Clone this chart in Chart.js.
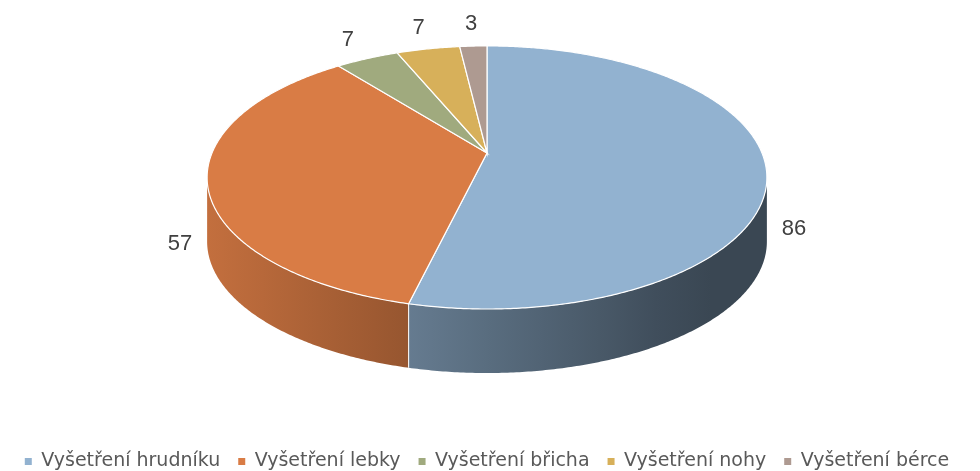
<!DOCTYPE html>
<html>
<head>
<meta charset="utf-8">
<script src="https://cdn.jsdelivr.net/npm/chart.js@4.4.0/dist/chart.umd.min.js"></script>
<style>
  html, body { margin: 0; padding: 0; background: #fff; }
</style>
</head>
<body>
<canvas id="chart" width="980" height="471"></canvas>
<script>
const categories = ['Vyšetření hrudníku', 'Vyšetření lebky', 'Vyšetření břicha', 'Vyšetření nohy', 'Vyšetření bérce']
const counts = [86, 57, 7, 7, 3]
const colors = ['#92b2d0', '#d97c45', '#a0aa7e', '#d7b05a', '#ae9a91']

// fake 3d: tilted disc with a bit of perspective
const CY = 153, RX = 275, RY = 127, PERSP = -0.186, DEPTH = 64

function proj(cx, ang, r, h) {
  const u = Math.cos(ang) * r, v = Math.sin(ang) * r
  const k = 1 + PERSP * v
  return [cx + RX * u / k, CY + RY * v / k + h]
}

function shade(hex, f) {
  const n = parseInt(hex.slice(1), 16)
  const r = Math.round(((n >> 16) & 255) * f)
  const g = Math.round(((n >> 8) & 255) * f)
  const b = Math.round((n & 255) * f)
  return `rgb(${r},${g},${b})`
}

// light comes from the left, wall gets darker to the right
function light(x) {
  return Math.max(0.4, 0.89 - (x - 215) * 0.00102)
}

const pie3d = {
  id: 'pie3d',
  beforeDatasetsDraw(chart) {
    const ctx = chart.ctx
    const arcs = chart.getDatasetMeta(0).data
    const cx = arcs[0].x
    const lo = Math.asin(-PERSP), hi = Math.PI - lo
    const step = Math.PI / 360

    ctx.save()
    // side walls (front half only)
    arcs.forEach((arc, i) => {
      const a0 = Math.max(arc.startAngle, lo), a1 = Math.min(arc.endAngle, hi)
      if (a1 <= a0) return
      const x0 = cx - RX * 1.02, x1 = cx + RX * 1.02
      const grad = ctx.createLinearGradient(x0, 0, x1, 0)
      for (let t = 0; t <= 1.0001; t += 0.1) {
        grad.addColorStop(Math.min(t, 1), shade(colors[i], light(x0 + (x1 - x0) * t)))
      }
      ctx.beginPath()
      let p = proj(cx, a0, 1, 0)
      ctx.moveTo(p[0], p[1])
      for (let a = a0; a < a1; a += step) {
        p = proj(cx, a, 1, 0)
        ctx.lineTo(p[0], p[1])
      }
      p = proj(cx, a1, 1, 0)
      ctx.lineTo(p[0], p[1])
      for (let a = a1; a > a0; a -= step) {
        p = proj(cx, a, 1, DEPTH)
        ctx.lineTo(p[0], p[1])
      }
      p = proj(cx, a0, 1, DEPTH)
      ctx.lineTo(p[0], p[1])
      ctx.closePath()
      ctx.fillStyle = grad
      ctx.fill()
    })
    // white seams between walls
    ctx.strokeStyle = '#ffffff'
    ctx.lineWidth = 1
    arcs.forEach(arc => {
      const a = arc.endAngle
      if (a > lo && a < hi) {
        const t = proj(cx, a, 1, 0), b = proj(cx, a, 1, DEPTH)
        ctx.beginPath()
        ctx.moveTo(t[0], t[1])
        ctx.lineTo(b[0], b[1])
        ctx.stroke()
      }
    })
    // top faces
    arcs.forEach((arc, i) => {
      ctx.beginPath()
      ctx.moveTo(cx, CY)
      for (let a = arc.startAngle; a < arc.endAngle; a += step) {
        const p = proj(cx, a, 1, 0)
        ctx.lineTo(p[0], p[1])
      }
      const p = proj(cx, arc.endAngle, 1, 0)
      ctx.lineTo(p[0], p[1])
      ctx.closePath()
      ctx.fillStyle = colors[i]
      ctx.fill()
      ctx.strokeStyle = '#ffffff'
      ctx.lineWidth = 1.2
      ctx.stroke()
    })
    ctx.restore()
    return false
  },
  // value labels (afterDatasetsDraw is skipped once the default draw is cancelled)
  afterDraw(chart) {
    const ctx = chart.ctx
    const arcs = chart.getDatasetMeta(0).data
    const cx = arcs[0].x
    ctx.save()
    ctx.font = '22px "Liberation Sans"'
    ctx.fillStyle = '#404040'
    ctx.textAlign = 'center'
    ctx.textBaseline = 'middle'
    arcs.forEach((arc, i) => {
      const mid = (arc.startAngle + arc.endAngle) / 2
      const front = Math.sin(mid) > 0
      const p = proj(cx, mid, 1, front ? DEPTH * 0.9 : 0)
      const off = front ? 28 : 38
      ctx.fillText(String(counts[i]), p[0] + off * Math.cos(mid), p[1] + 22 * Math.sin(mid))
    })
    ctx.restore()
  }
}

const chart = new Chart(document.getElementById('chart').getContext('2d'), {
  type: 'pie',
  data: {
    labels: categories,
    datasets: [{
      data: counts,
      backgroundColor: colors,
      borderWidth: 0
    }]
  },
  options: {
    responsive: false,
    animation: false,
    layout: { padding: { left: 0, right: 6, top: 0, bottom: -10 } },
    plugins: {
      tooltip: { enabled: false },
      legend: {
        position: 'bottom',
        labels: {
          boxWidth: 7,
          boxHeight: 7,
          padding: 18,
          color: '#595959',
          font: { family: 'DejaVu Sans', size: 19 }
        }
      }
    }
  },
  plugins: [pie3d]
})
</script>
</body>
</html>
